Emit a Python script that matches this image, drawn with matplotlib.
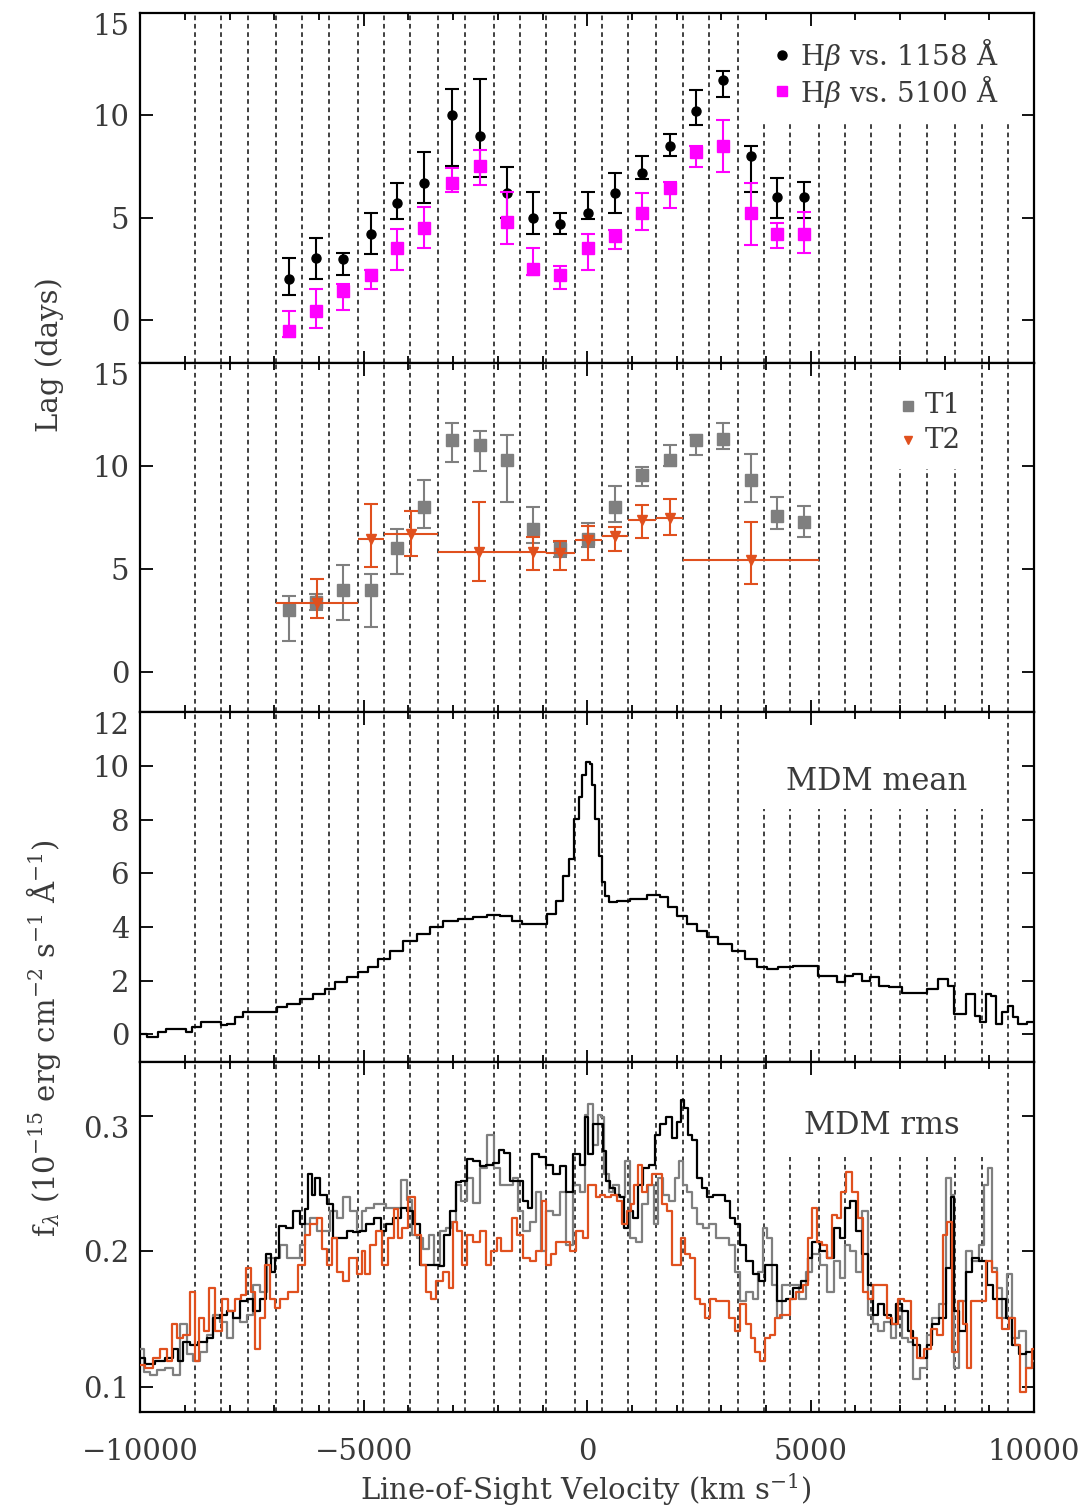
import matplotlib
matplotlib.use("Agg")
import matplotlib.pyplot as plt
from matplotlib.patches import Rectangle
from matplotlib.ticker import MultipleLocator, NullLocator

plt.rcParams['font.family'] = ['DejaVu Serif']
plt.rcParams['mathtext.fontset'] = 'dejavuserif'

TXT = '#3a3a3a'
ORANGE = '#E0501E'
GRAY = '#7F7F7F'
MAGENTA = '#FF00FF'

# ---------------- data ----------------
bin_edges = [-8784, -8195, -7600, -6964, -6374, -5785, -5134, -4545, -3957, -3330,
             -2726, -2088, -1508, -922, -273, 329, 915, 1549, 2137, 2724, 3366,
             3952, 4545, 5181, 5774, 6362, 7002, 7598, 8240, 8826, 9413]

lag_vel = [-6669, -6080, -5460, -4840, -4251, -3644, -3028, -2407, -1798, -1215,
           -598, 28, 622, 1232, 1843, 2431, 3045, 3659, 4249, 4863]

uv_lag = [2.0, 3.0, 2.95, 4.2, 5.7, 6.7, 10.0, 9.0, 6.2, 5.0,
          4.7, 5.2, 6.2, 7.2, 8.5, 10.2, 11.7, 8.0, 6.0, 6.0]
uv_hi = [1.0, 1.0, 0.3, 1.0, 1.0, 1.5, 1.3, 2.75, 1.25, 1.25,
         0.5, 1.05, 1.0, 0.8, 0.6, 1.05, 0.45, 0.5, 0.95, 0.75]
uv_lo = [0.8, 1.0, 0.75, 1.0, 0.75, 1.0, 2.5, 2.0, 1.2, 0.8,
         0.5, 0.25, 1.0, 0.3, 0.5, 0.7, 0.8, 1.75, 1.0, 1.0]

opt_lag = [-0.55, 0.45, 1.4, 2.2, 3.5, 4.5, 6.7, 7.5, 4.8, 2.5,
           2.2, 3.5, 4.1, 5.2, 6.45, 8.2, 8.5, 5.2, 4.2, 4.2]
opt_hi = [1.0, 1.05, 0.37, 0.25, 0.95, 1.0, 0.7, 0.8, 1.45, 1.0,
          0.45, 0.7, 0.3, 1.0, 0.3, 0.3, 1.25, 1.5, 0.55, 1.05]
opt_lo = [0.3, 0.85, 0.93, 0.7, 1.05, 1.0, 0.45, 0.9, 1.1, 0.3,
          0.7, 1.05, 0.65, 0.8, 1.0, 0.75, 1.25, 1.55, 0.7, 0.95]

t1_lag = [3.0, 3.4, 4.0, 4.0, 6.0, 8.0, 11.25, 11.0, 10.3, 6.95,
          5.95, 6.45, 8.0, 9.55, 10.3, 11.25, 11.3, 9.3, 7.55, 7.3]
t1_hi = [0.7, 0.4, 1.2, 0.76, 0.95, 1.3, 0.85, 0.7, 1.2, 1.05,
         0.35, 0.8, 1.05, 0.4, 0.7, 0.25, 0.8, 1.26, 0.95, 0.75]
t1_lo = [1.5, 0.4, 1.45, 1.8, 1.25, 1.0, 1.05, 1.25, 2.05, 0.7,
         0.35, 0.4, 0.7, 0.5, 0.3, 0.7, 0.5, 1.05, 0.6, 0.75]

t2_vel = [-6049, -4840, -3938, -2419, -1215, -598, 28, 622, 1232, 1843, 3659]
t2_halfwidth = [915, 295, 608, 911, 293, 325, 301, 293, 317, 294, 1522]
t2_lag = [3.35, 6.45, 6.7, 5.85, 5.85, 5.8, 6.4, 6.6, 7.4, 7.5, 5.45]
t2_hi = [1.15, 1.7, 1.1, 2.4, 0.7, 0.55, 0.7, 0.45, 0.73, 0.9, 1.85]
t2_lo = [0.7, 1.35, 1.05, 1.45, 0.9, 0.85, 0.95, 0.7, 0.9, 0.85, 1.15]

mean_vel = [-10000, -9710, -9522, -9336, -9038, -8926, -8777, -8516, -8255, -8143,
            -7994, -7770, -7621, -7323, -7024, -6875, -6577, -6278, -5980, -5756,
            -5532, -5234, -5010, -4787, -4563, -4264, -3966, -3667, -3369, -3071,
            -2698, -2399, -2101, -1803, -1579, -1355, -982, -796, -609, -460,
            -348, -236, -124, -87, 25, 100, 137, 234, 286, 361,
            436, 547, 771, 1144, 1517, 1741, 1890, 2114, 2338, 2561,
            2785, 3084, 3382, 3680, 3904, 4128, 4426, 4800, 5098, 5247,
            5471, 5695, 5844, 6068, 6217, 6441, 6628, 6889, 7187, 7485,
            7709, 8008, 8157, 8269, 8418, 8530, 8642, 8716, 8866, 8978,
            9090, 9202, 9351, 9463, 9575, 9724, 9948]
mean_flux = [0.0, -0.1, 0.08, 0.2, 0.2, 0.08, 0.26, 0.44, 0.44, 0.34,
             0.37, 0.62, 0.81, 0.81, 0.81, 1.0, 1.12, 1.31, 1.49, 1.68,
             1.93, 2.12, 2.3, 2.51, 2.8, 3.11, 3.49, 3.73, 3.98, 4.23,
             4.29, 4.36, 4.46, 4.39, 4.23, 4.11, 4.11, 4.48, 4.98, 5.91,
             6.54, 8.03, 8.84, 9.65, 10.15, 10.08, 9.28, 8.03, 6.66, 5.67,
             5.17, 4.92, 4.96, 5.04, 5.2, 5.1, 4.73, 4.42, 4.11, 3.83,
             3.61, 3.36, 3.11, 2.8, 2.49, 2.43, 2.49, 2.55, 2.55, 2.18,
             2.18, 1.93, 2.18, 2.24, 1.99, 2.12, 1.81, 1.74, 1.53, 1.53,
             1.68, 2.05, 1.78, 0.75, 0.75, 1.49, 1.49, 0.68, 0.44, 1.49,
             1.43, 0.37, 0.81, 1.06, 0.62, 0.37, 0.44]

rms_all_vel = [-10000, -9784, -9560, -9337, -9187, -9113, -8964, -8814, -8591, -8441,
               -8292, -8143, -7994, -7845, -7695, -7546, -7397, -7248, -7136, -7024,
               -6949, -6838, -6651, -6502, -6353, -6278, -6203, -6129, -6054, -5905,
               -5756, -5607, -5457, -5308, -5159, -5017, -4868, -4681, -4569, -4420,
               -4271, -4084, -3973, -3823, -3674, -3525, -3376, -3264, -3152, -3003,
               -2891, -2742, -2630, -2481, -2331, -2182, -2033, -1921, -1809, -1660,
               -1511, -1362, -1287, -1175, -989, -839, -690, -541, -392, -243,
               -93, -27, 85, 197, 309, 383, 458, 570, 682, 794,
               868, 980, 1092, 1204, 1316, 1465, 1577, 1689, 1838, 1950,
               2062, 2136, 2211, 2286, 2398, 2509, 2621, 2733, 2882, 3032,
               3144, 3255, 3367, 3479, 3628, 3778, 3927, 4039, 4113, 4374,
               4524, 4673, 4897, 4964, 5113, 5300, 5449, 5598, 5710, 5822,
               5934, 6083, 6232, 6344, 6456, 6568, 6717, 6866, 6978, 7127,
               7239, 7351, 7538, 7650, 7799, 7948, 8097, 8172, 8246, 8396,
               8545, 8694, 8843, 9030, 9142, 9291, 9440, 9589, 9738, 9888,
               10000]
rms_all_flux = [0.121, 0.117, 0.119, 0.121, 0.128, 0.119, 0.133, 0.131, 0.133, 0.136,
                0.151, 0.153, 0.156, 0.151, 0.163, 0.165, 0.156, 0.165, 0.198, 0.185,
                0.195, 0.219, 0.217, 0.230, 0.220, 0.231, 0.257, 0.242, 0.254, 0.242,
                0.235, 0.210, 0.210, 0.215, 0.214, 0.215, 0.220, 0.225, 0.215, 0.220,
                0.225, 0.232, 0.230, 0.220, 0.190, 0.190, 0.190, 0.189, 0.212, 0.230,
                0.251, 0.252, 0.268, 0.267, 0.263, 0.264, 0.265, 0.275, 0.273, 0.252,
                0.252, 0.237, 0.232, 0.272, 0.270, 0.264, 0.257, 0.263, 0.244, 0.272,
                0.264, 0.299, 0.272, 0.294, 0.294, 0.274, 0.252, 0.247, 0.242, 0.240,
                0.217, 0.230, 0.225, 0.249, 0.262, 0.264, 0.286, 0.294, 0.299, 0.284,
                0.296, 0.312, 0.306, 0.286, 0.282, 0.254, 0.247, 0.240, 0.242, 0.242,
                0.237, 0.225, 0.220, 0.205, 0.193, 0.183, 0.178, 0.190, 0.190, 0.163,
                0.165, 0.173, 0.178, 0.195, 0.207, 0.200, 0.195, 0.217, 0.210, 0.232,
                0.237, 0.215, 0.198, 0.175, 0.153, 0.161, 0.153, 0.146, 0.161, 0.156,
                0.141, 0.131, 0.121, 0.131, 0.146, 0.151, 0.188, 0.240, 0.156, 0.141,
                0.185, 0.195, 0.193, 0.175, 0.165, 0.165, 0.151, 0.131, 0.124, 0.126,
                0.126]

rms_t1_vel = [-10000, -9859, -9710, -9560, -9337, -9187, -9038, -8889, -8740, -8591,
              -8441, -8292, -8143, -7994, -7845, -7695, -7546, -7397, -7248, -7099,
              -6949, -6800, -6651, -6502, -6353, -6278, -6129, -5980, -5830, -5681,
              -5532, -5383, -5234, -5084, -5017, -4868, -4681, -4569, -4420, -4271,
              -4084, -3973, -3861, -3749, -3600, -3488, -3376, -3227, -3115, -3003,
              -2891, -2742, -2630, -2481, -2331, -2145, -2033, -1884, -1735, -1585,
              -1511, -1362, -1212, -1063, -989, -839, -690, -541, -392, -243,
              -93, -27, 85, 197, 271, 346, 421, 533, 644, 794,
              906, 1017, 1167, 1279, 1428, 1540, 1614, 1763, 1913, 2025,
              2099, 2174, 2286, 2398, 2509, 2659, 2808, 2957, 3106, 3255,
              3367, 3479, 3628, 3778, 3889, 3964, 4076, 4188, 4300, 4412,
              4524, 4673, 4822, 4964, 5113, 5300, 5449, 5598, 5710, 5822,
              5934, 6083, 6232, 6344, 6456, 6568, 6717, 6866, 6978, 7127,
              7239, 7351, 7538, 7650, 7799, 7948, 8097, 8172, 8246, 8396,
              8545, 8694, 8843, 8918, 9030, 9105, 9217, 9366, 9440, 9589,
              9738, 9888, 10000]
rms_t1_flux = [0.128, 0.111, 0.109, 0.112, 0.114, 0.109, 0.146, 0.124, 0.119, 0.126,
               0.138, 0.153, 0.148, 0.136, 0.151, 0.148, 0.153, 0.175, 0.170, 0.195,
               0.195, 0.205, 0.195, 0.195, 0.205, 0.220, 0.225, 0.215, 0.215, 0.230,
               0.225, 0.240, 0.230, 0.215, 0.230, 0.232, 0.235, 0.235, 0.232, 0.232,
               0.253, 0.238, 0.212, 0.210, 0.202, 0.212, 0.190, 0.215, 0.217, 0.222,
               0.249, 0.237, 0.254, 0.236, 0.262, 0.286, 0.262, 0.249, 0.249, 0.254,
               0.230, 0.215, 0.222, 0.244, 0.200, 0.230, 0.227, 0.244, 0.205, 0.249,
               0.244, 0.301, 0.309, 0.279, 0.301, 0.299, 0.257, 0.244, 0.249, 0.240,
               0.267, 0.210, 0.207, 0.235, 0.249, 0.220, 0.254, 0.242, 0.237, 0.254,
               0.267, 0.249, 0.244, 0.232, 0.220, 0.217, 0.220, 0.210, 0.210, 0.205,
               0.185, 0.163, 0.170, 0.165, 0.185, 0.217, 0.210, 0.175, 0.151, 0.175,
               0.175, 0.175, 0.165, 0.185, 0.198, 0.190, 0.170, 0.193, 0.180, 0.205,
               0.200, 0.185, 0.230, 0.153, 0.146, 0.141, 0.148, 0.136, 0.161, 0.136,
               0.133, 0.106, 0.114, 0.138, 0.151, 0.161, 0.254, 0.242, 0.114, 0.163,
               0.200, 0.193, 0.205, 0.249, 0.262, 0.188, 0.173, 0.151, 0.183, 0.136,
               0.141, 0.114, 0.119]

rms_t2_vel = [-10000, -9784, -9635, -9486, -9337, -9262, -9113, -8964, -8814, -8740,
              -8628, -8516, -8404, -8255, -8106, -7957, -7807, -7695, -7583, -7472,
              -7397, -7248, -7173, -7024, -6949, -6800, -6576, -6353, -6278, -6129,
              -5980, -5905, -5756, -5681, -5532, -5420, -5234, -5084, -5017, -4942,
              -4793, -4644, -4532, -4383, -4271, -4196, -4084, -3935, -3786, -3674,
              -3562, -3451, -3301, -3152, -3040, -2966, -2854, -2742, -2630, -2481,
              -2331, -2220, -2070, -1958, -1884, -1735, -1623, -1511, -1362, -1212,
              -1063, -951, -877, -765, -616, -466, -317, -168, -27, 48,
              160, 234, 346, 458, 607, 719, 831, 943, 1017, 1092,
              1167, 1279, 1391, 1502, 1614, 1726, 1838, 1950, 2062, 2136,
              2248, 2360, 2472, 2584, 2696, 2808, 2957, 3106, 3255, 3367,
              3479, 3628, 3703, 3815, 3927, 4039, 4151, 4263, 4374, 4487,
              4598, 4748, 4897, 4964, 5076, 5188, 5300, 5412, 5524, 5635,
              5747, 5859, 6008, 6120, 6232, 6344, 6456, 6643, 6754, 6904,
              7016, 7165, 7314, 7463, 7613, 7762, 7911, 8023, 8097, 8246,
              8358, 8470, 8545, 8619, 8843, 8992, 9105, 9217, 9366, 9515,
              9626, 9738, 9888, 10000]
rms_t2_flux = [0.116, 0.114, 0.121, 0.128, 0.119, 0.146, 0.136, 0.138, 0.170, 0.119,
               0.151, 0.141, 0.173, 0.141, 0.165, 0.156, 0.165, 0.168, 0.188, 0.170,
               0.128, 0.151, 0.190, 0.165, 0.158, 0.165, 0.170, 0.190, 0.212, 0.220,
               0.225, 0.202, 0.190, 0.210, 0.185, 0.178, 0.195, 0.183, 0.200, 0.183,
               0.205, 0.215, 0.190, 0.210, 0.231, 0.210, 0.217, 0.240, 0.212, 0.190,
               0.170, 0.165, 0.178, 0.185, 0.173, 0.222, 0.215, 0.190, 0.212, 0.207,
               0.215, 0.190, 0.200, 0.210, 0.200, 0.200, 0.225, 0.212, 0.195, 0.193,
               0.200, 0.237, 0.190, 0.198, 0.207, 0.207, 0.200, 0.215, 0.210, 0.249,
               0.249, 0.240, 0.242, 0.240, 0.242, 0.237, 0.220, 0.230, 0.235, 0.249,
               0.264, 0.244, 0.249, 0.257, 0.257, 0.235, 0.230, 0.190, 0.190, 0.210,
               0.198, 0.195, 0.165, 0.161, 0.151, 0.165, 0.163, 0.163, 0.151, 0.141,
               0.161, 0.146, 0.136, 0.126, 0.119, 0.136, 0.138, 0.151, 0.153, 0.153,
               0.165, 0.170, 0.175, 0.210, 0.232, 0.207, 0.205, 0.195, 0.227, 0.225,
               0.244, 0.259, 0.244, 0.225, 0.170, 0.165, 0.175, 0.175, 0.151, 0.146,
               0.165, 0.163, 0.136, 0.121, 0.128, 0.143, 0.138, 0.212, 0.222, 0.126,
               0.163, 0.146, 0.114, 0.163, 0.163, 0.193, 0.185, 0.151, 0.143, 0.151,
               0.131, 0.096, 0.114, 0.128]

x_ticks = [-10000, -5000, 0, 5000, 10000]
x_ticklabels = ['\u221210000', '\u22125000', '0', '5000', '10000']

legend1_labels = [r'H$\beta$ vs. 1158 Å', r'H$\beta$ vs. 5100 Å']
legend2_labels = ['T1', 'T2']

# ---------------- figure ----------------
fig = plt.figure(figsize=(10.88, 15.11), dpi=100)
gs = fig.add_gridspec(4, 1, left=0.1290, right=0.9504, top=0.99140,
                      bottom=0.06552, hspace=0)
axes = [fig.add_subplot(gs[i]) for i in range(4)]
ax1, ax2, ax3, ax4 = axes

ylims = [(-2.1, 15), (-1.95, 15), (-1.05, 12), (0.0813, 0.3398)]
yticks = [[0, 5, 10, 15], [0, 5, 10, 15], [0, 2, 4, 6, 8, 10, 12], [0.1, 0.2, 0.3]]
yticklabels = [['0', '5', '10', '15'], ['0', '5', '10', '15'],
               ['0', '2', '4', '6', '8', '10', '12'], ['0.1', '0.2', '0.3']]
masks = [(0.688, 0.690, 0.292, 0.31), (0.839, 0.695, 0.089, 0.31),
         (0.688, 0.723, 0.274, 0.28), (0.716, 0.728, 0.240, 0.28)]

for i, ax in enumerate(axes):
    ax.set_xlim(-10000, 10000)
    ax.set_ylim(*ylims[i])
    ax.set_xticks(x_ticks)
    ax.xaxis.set_minor_locator(MultipleLocator(1000))
    ax.set_yticks(yticks[i])
    ax.set_yticklabels(yticklabels[i])
    ax.yaxis.set_minor_locator(NullLocator())
    ax.tick_params(which='both', direction='in', top=True, right=True,
                   width=1.3, labelsize=21, labelcolor=TXT)
    ax.tick_params(which='major', length=9)
    ax.tick_params(which='minor', length=5)
    ax.tick_params(axis='y', pad=8)
    for s in ax.spines.values():
        s.set_linewidth(1.6)
    for e in bin_edges:
        ax.axvline(e, color='#404040', lw=1.4, ls=(0, (2.4, 1.9)), zorder=1)
    mx, my, mw, mh = masks[i]
    ax.add_patch(Rectangle((mx, my), mw, mh, transform=ax.transAxes,
                           facecolor='white', edgecolor='none', zorder=1.5))
    if i < 3:
        ax.tick_params(labelbottom=False)
    else:
        ax.set_xticklabels(x_ticklabels)
        ax.tick_params(axis='x', pad=19)
    ax.get_yticklabels()[-1].set_verticalalignment('top')

eb = dict(ls='none', elinewidth=1.5, capsize=5, capthick=1.5)

# Panel 1
ax1.errorbar(lag_vel, uv_lag, yerr=[uv_lo, uv_hi], fmt='o', color='black',
             ms=6.5, zorder=3, **eb)
ax1.errorbar(lag_vel, opt_lag, yerr=[opt_lo, opt_hi], fmt='s', color=MAGENTA,
             ms=8, zorder=4, **eb)
leg_y1 = [0.880, 0.776]
ax1.plot([0.718], [leg_y1[0]], marker='o', color='black', ms=6.5, ls='none',
         transform=ax1.transAxes, zorder=5)
ax1.plot([0.718], [leg_y1[1]], marker='s', color=MAGENTA, ms=7, ls='none',
         transform=ax1.transAxes, zorder=5)
for lab, yy in zip(legend1_labels, leg_y1):
    ax1.text(0.738, yy, lab, transform=ax1.transAxes, ha='left',
             va='center', fontsize=20, color=TXT, zorder=5)

# Panel 2
ax2.errorbar(lag_vel, t1_lag, yerr=[t1_lo, t1_hi], fmt='s', color=GRAY,
             ms=8.5, zorder=3, **eb)
ax2.errorbar(t2_vel, t2_lag, xerr=t2_halfwidth, fmt='none', ecolor=ORANGE,
             elinewidth=1.5, capsize=0, zorder=4)
ax2.errorbar(t2_vel, t2_lag, yerr=[t2_lo, t2_hi], fmt='v', color=ORANGE,
             ms=6.5, zorder=4, **eb)
leg_y2 = [0.877, 0.779]
ax2.plot([0.859], [leg_y2[0]], marker='s', color=GRAY, ms=7, ls='none',
         transform=ax2.transAxes, zorder=5)
ax2.plot([0.859], [leg_y2[1]], marker='v', color=ORANGE, ms=6, ls='none',
         transform=ax2.transAxes, zorder=5)
for lab, yy in zip(legend2_labels, leg_y2):
    ax2.text(0.878, yy, lab, transform=ax2.transAxes, ha='left',
             va='center', fontsize=20, color=TXT, zorder=5)

# Panel 3
ax3.plot(mean_vel, mean_flux, drawstyle='steps-mid', color='black', lw=1.6, zorder=3)
ax3.text(0.925, 0.803, 'MDM mean', transform=ax3.transAxes, ha='right',
         va='center', fontsize=22, color=TXT, zorder=5)

# Panel 4
ax4.plot(rms_t1_vel, rms_t1_flux, drawstyle='steps-mid', color=GRAY, lw=1.6, zorder=3)
ax4.plot(rms_all_vel, rms_all_flux, drawstyle='steps-mid', color='black', lw=1.6, zorder=4)
ax4.plot(rms_t2_vel, rms_t2_flux, drawstyle='steps-mid', color=ORANGE, lw=1.6, zorder=5)
ax4.text(0.917, 0.819, 'MDM rms', transform=ax4.transAxes, ha='right',
         va='center', fontsize=22, color=TXT, zorder=6)

# Labels
fig.text(0.046, 0.765, 'Lag (days)', rotation=90, ha='center', va='center',
         fontsize=21, color=TXT)
fig.text(0.040, 0.313,
         r'f$_\lambda$ (10$^{-15}$ erg cm$^{-2}$ s$^{-1}$ Å$^{-1}$)',
         rotation=90, ha='center', va='center', fontsize=21, color=TXT)
fig.text(0.5386, 0.0139, r'Line-of-Sight Velocity (km s$^{-1}$)',
         ha='center', va='center', fontsize=21, color=TXT)

fig.savefig('out.png', dpi=100)
